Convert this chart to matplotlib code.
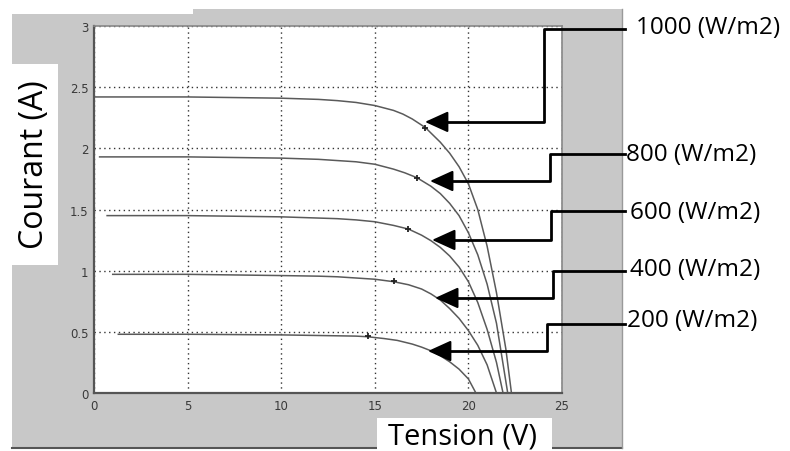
import numpy as np
import matplotlib
matplotlib.use("Agg")
from matplotlib import pyplot as plt
from matplotlib.patches import Rectangle, Polygon

# courbes I-V (tension en V, courant en A)
v_1000 = [0, 5, 10, 12, 13, 14, 15, 16, 16.5, 17, 17.7, 18.5, 19, 19.5, 20, 20.5, 21, 21.5, 22, 22.3]
i_1000 = [2.42, 2.42, 2.41, 2.40, 2.39, 2.375, 2.35, 2.31, 2.28, 2.24, 2.17, 2.05, 1.96, 1.85, 1.71, 1.50, 1.20, 0.82, 0.36, 0]
v_800 = [0.3, 5, 10, 12, 13, 14, 15, 16, 16.6, 17.25, 18, 18.5, 19, 19.5, 20, 20.5, 21, 21.5, 22.1]
i_800 = [1.93, 1.93, 1.92, 1.91, 1.90, 1.89, 1.87, 1.83, 1.80, 1.76, 1.69, 1.63, 1.55, 1.45, 1.31, 1.13, 0.89, 0.57, 0]
v_600 = [0.7, 5, 10, 12, 13, 14, 15, 16, 16.8, 17.5, 18, 18.5, 19, 19.5, 20, 20.5, 21, 21.5, 21.85]
i_600 = [1.45, 1.45, 1.44, 1.43, 1.425, 1.415, 1.40, 1.37, 1.34, 1.29, 1.245, 1.19, 1.12, 1.03, 0.91, 0.74, 0.52, 0.25, 0]
v_400 = [1.0, 5, 10, 12, 13, 14, 15, 16, 16.8, 17.5, 18, 18.5, 19, 19.5, 20, 20.5, 21, 21.5]
i_400 = [0.97, 0.97, 0.96, 0.955, 0.95, 0.94, 0.93, 0.91, 0.885, 0.85, 0.81, 0.76, 0.69, 0.61, 0.51, 0.39, 0.23, 0]
v_200 = [1.3, 5, 10, 12, 14, 14.6, 15.5, 16.2, 17, 17.5, 18, 18.5, 19, 19.5, 20, 20.4]
i_200 = [0.48, 0.48, 0.475, 0.47, 0.465, 0.46, 0.445, 0.43, 0.40, 0.375, 0.345, 0.305, 0.255, 0.195, 0.115, 0]

# points de puissance max
mpp_v = [17.7, 17.25, 16.8, 16.0, 14.65]
mpp_i = [2.17, 1.76, 1.34, 0.915, 0.465]

labels = ["1000 (W/m2)", "800 (W/m2)", "600 (W/m2)", "400 (W/m2)", "200 (W/m2)"]
# fleches : pointe, coude, hauteur de l'etiquette (coordonnees des donnees)
tip_v = [17.68, 17.95, 18.06, 18.22, 17.84]
tip_i = [2.216, 1.733, 1.251, 0.777, 0.343]
bend_v = [24.04, 24.36, 24.41, 24.52, 24.2]
lab_i = [2.976, 1.954, 1.488, 0.998, 0.564]

fig = plt.figure(figsize=(7.9, 4.52), dpi=100)
W, H = 790.0, 452.0

def fx(px):
    return px / W

def fy(py):
    return 1 - py / H

# fond gris facon matlab
gris = Polygon([(fx(12), fy(449)), (fx(622), fy(449)), (fx(622), fy(10)),
                (fx(193), fy(10)), (fx(193), fy(15)), (fx(12), fy(15))],
               closed=True, transform=fig.transFigure, facecolor="#c8c8c8",
               edgecolor="none", zorder=-2)
fig.patches.append(gris)
fig.add_artist(plt.Line2D([fx(12), fx(622)], [fy(449), fy(449)], color="#555555", lw=1.5, zorder=-1))
fig.add_artist(plt.Line2D([fx(622), fx(622)], [fy(449), fy(10)], color="#999999", lw=1, zorder=-1))

ax = fig.add_axes([fx(94), fy(394), fx(562) - fx(94), fy(27) - fy(394)])
ax.set_facecolor("white")
ax.set_zorder(2)

for v, i in [(v_1000, i_1000), (v_800, i_800), (v_600, i_600), (v_400, i_400), (v_200, i_200)]:
    ax.plot(v, i, color="#5a5a5a", lw=1.1)
ax.plot(mpp_v, mpp_i, ls="none", marker="+", ms=5, mew=1.3, color="#222222")

ax.set_xlim(0, 25)
ax.set_ylim(0, 3)
ax.set_xticks([0, 5, 10, 15, 20, 25])
ax.set_yticks([0, 0.5, 1, 1.5, 2, 2.5, 3])
ax.set_yticklabels(["0", "0.5", "1", "1.5", "2", "2.5", "3"])
ax.grid(True, color="#333333", ls=(0, (1, 2.5)), lw=1)
ax.tick_params(direction="in", length=0, labelsize=8.5, colors="#3a3a3a", pad=4)
for s in ["left", "bottom"]:
    ax.spines[s].set_color("#555555")
    ax.spines[s].set_linewidth(1.6)
for s in ["top", "right"]:
    ax.spines[s].set_color("#888888")
    ax.spines[s].set_linewidth(1.2)

# fleches et etiquettes
for k in range(5):
    ax.plot([28.35, bend_v[k], bend_v[k], tip_v[k] + 0.6],
            [lab_i[k], lab_i[k], tip_i[k], tip_i[k]],
            color="black", lw=2, clip_on=False, zorder=5)
    ax.annotate("", xy=(tip_v[k], tip_i[k]), xytext=(tip_v[k] + 1.0, tip_i[k]),
                arrowprops=dict(arrowstyle="-|>,head_length=1.1,head_width=0.5",
                                mutation_scale=13, color="black", lw=1.5,
                                shrinkA=0, shrinkB=0), zorder=6)

lab_x = [636, 626, 630, 630, 627]
lab_y = [28, 155, 213, 270, 321]
for k in range(5):
    fig.text(fx(lab_x[k]), fy(lab_y[k]), labels[k], fontsize=17.5, family="Open Sans",
             ha="left", va="center", color="black", zorder=3)

# titres des axes dans des cadres blancs
fig.patches.append(Rectangle((fx(12), fy(266)), fx(58) - fx(12), fy(65) - fy(266),
                             transform=fig.transFigure, facecolor="white",
                             edgecolor="none", zorder=1))
fig.text(fx(35), fy(165), "Courant (A)", rotation=90, fontsize=23, family="Open Sans",
         ha="center", va="center", color="black", zorder=3)
fig.patches.append(Rectangle((fx(377), 0), fx(552) - fx(377), fy(419),
                             transform=fig.transFigure, facecolor="white",
                             edgecolor="none", zorder=1))
fig.text(fx(463), fy(437), "Tension (V)", fontsize=21, family="Open Sans",
         ha="center", va="center", color="black", zorder=3)

fig.savefig("out.png", dpi=100)
